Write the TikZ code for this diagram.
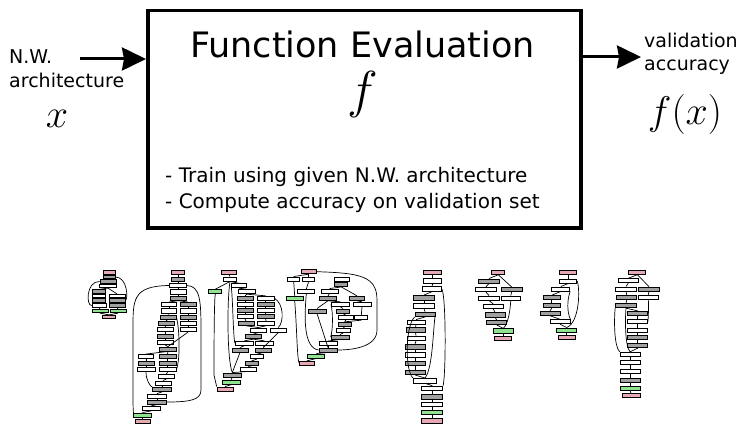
\RequirePackage{fix-cm}
\documentclass[tikz,border=0pt]{standalone}
\usepackage{fontspec}
\setmainfont{DejaVu Sans}
\usetikzlibrary{arrows.meta}

\definecolor{laygray}{HTML}{A0A0A0}
\definecolor{laygreen}{HTML}{8FE38F}
\definecolor{laypink}{HTML}{E6A8B4}

\begin{document}
\begin{tikzpicture}[
  x=1pt, y=-1pt,
  lyr/.style={draw, line width=0.7pt, inner sep=0pt, minimum height=4.2pt},
  gy/.style={fill=laygray}, wt/.style={fill=white},
  gn/.style={fill=laygreen}, pk/.style={fill=laypink},
  edg/.style={line width=0.7pt},
  big/.style={line width=3pt, -{Stealth[length=24pt, width=23pt, inset=2pt]}}
]
\useasboundingbox (0,0) rectangle (741,425);
% ---------------- top: the black-box evaluation --------------------------
\node[draw, line width=3.5pt, minimum width=433pt, minimum height=217pt,
  anchor=north west, inner sep=0pt] (fe) at (146,9) {};
\node[font=\fontsize{35}{40}\selectfont] (ttl) at (362.5,44) {Function Evaluation};
\node[font=\fontsize{52}{56}\selectfont] (fsym) at (362.5,95) {$f$};
\node[anchor=west, align=left, inner sep=0pt, font=\fontsize{20}{26}\selectfont]
  (steps) at (165,190) {- Train using given N.W. architecture\\- Compute accuracy on validation set};

\node[anchor=base west, inner sep=0pt, font=\fontsize{19}{23}\selectfont] (nw) at (9,64) {N.W.};
\node[anchor=base west, inner sep=0pt, font=\fontsize{19}{23}\selectfont] (arch) at (9,88) {architecture};
\node[font=\fontsize{40}{44}\selectfont] (xin) at (57,119) {$x$};
\coordinate (inp) at (80,59);
\draw[big] (inp) -- (fe.west |- inp);

\node[anchor=base west, inner sep=0pt, font=\fontsize{19}{23}\selectfont] (val) at (644,48) {validation};
\node[anchor=base west, inner sep=0pt, font=\fontsize{19}{23}\selectfont] (acc) at (644,71) {accuracy};
\node[font=\fontsize{40}{44}\selectfont] (fx) at (685,115) {$f(x)$};
\coordinate (outp) at (641,57);
\draw[big] (fe.east |- outp) -- (outp);

% ---------------- bottom: sample architectures ---------------------------
% net a
\begin{scope}[lyr/.append style={minimum height=3.5pt}]
  \foreach \n/\x/\y/\w/\k in {a1/109/272.5/12/pk, a2/109/277/12/gy, a3/108/281.5/16/gy,
    a4/108/286/17/wt, a5/99/291.5/13/gy, a6/99/296/13/wt, a7/99/300.5/13/gy,
    a8/117/296/16/wt, a9/117/300.5/16/gy, a10/99/305.5/14/wt, a11/117/305.5/16/gy,
    a12/100/311/16/gn, a13/118/311/16/gn, a14/109/317/13/pk}
    \node[lyr, \k, minimum width=\w pt] (\n) at (\x,\y) {};
\end{scope}
\foreach \u/\v in {a1/a2, a2/a3, a3/a4, a4/a5, a4/a8, a5/a6, a6/a7, a7/a10, a8/a9,
  a9/a11, a10/a12, a11/a13, a12/a14, a13/a14}
  \draw[edg] (\u.south) -- (\v.north);
\draw[edg] (a3.west) .. controls (86,281) and (86,306) .. (a10.west);
\draw[edg] (a2.east) .. controls (128,277) and (128,300) .. (a9.east);

% net b
\foreach \n/\x/\y/\w/\k in {b1/178/272.5/13/pk, b2/178/279/13/gy, b3/178/285.5/17/wt,
  b4/178/291.8/16/wt, b5/178/298.2/16/gy, b6/169/304.5/15/wt, b7/188/304.5/16/gy,
  b8/169/310.8/15/wt, b9/188/310.8/16/wt, b10/168/317/16/gy, b11/188/317/16/gy,
  b12/166/323.3/16/gy, b13/188/323.3/16/wt, b14/165/329.7/16/wt, b15/188/329.7/16/wt,
  b16/165/336/16/gy, b17/165/342.5/16/wt, b18/168/349/17/gy, b19/146/356.5/15/wt,
  b20/167.5/356.5/17/gy, b21/146/363/16/gy, b22/167.5/363/17/gy, b23/146/369.5/18/wt,
  b24/167.5/369.5/17/wt, b25/166.5/376.5/16/wt, b26/163/383/16/wt, b27/162/389.5/19/gy,
  b28/157/396/19/wt, b29/157/402/19/gy, b30/151/408.5/18/wt, b31/142.5/415/18/gn,
  b32/142.5/421/15/pk}
  \node[lyr, \k, minimum width=\w pt] (\n) at (\x,\y) {};
\foreach \u/\v in {b1/b2, b2/b3, b3/b4, b4/b5, b5/b6, b5/b7, b6/b8, b8/b10, b10/b12,
  b12/b14, b14/b16, b16/b17, b17/b18, b7/b9, b9/b11, b11/b13, b13/b15, b15/b18,
  b18/b19, b18/b20, b19/b21, b21/b23, b20/b22, b22/b24, b24/b25, b25/b26, b26/b27,
  b27/b28, b28/b29, b29/b30, b30/b31, b31/b32}
  \draw[edg] (\u.south) -- (\v.north);
\draw[edg] (b23.south) .. controls (146,380) and (150,386) .. (b27.north west);
\draw[edg] (b10.east) .. controls (180,330) and (180,362) .. (b24.east);
\draw[edg] (b3.west) .. controls (132,286) and (133,300) .. (133,330)
  -- (133,400) .. controls (133,412) and (134,415) .. (b31.west);
\draw[edg] (b3.east) .. controls (200,286) and (201,300) .. (201,330)
  -- (201,390) .. controls (201,400) and (190,402) .. (b29.east);

% net c
\foreach \n/\x/\y/\w/\k in {c1/229/272.3/15/pk, c2/230/279/13/wt, c3/239/285.7/15/wt,
  c4/215.3/291.7/13/gn, c5/246.7/291.7/17/wt, c6/245/298.3/16/gy, c7/265.7/298.3/17/wt,
  c8/245/304.3/16/wt, c9/265.7/304.3/17/gy, c10/245/310.7/16/gy, c11/265.7/310.7/17/wt,
  c12/245/316.7/16/wt, c13/265.7/316.7/17/gy, c14/246/323.3/16/gy, c15/266/323.3/17/wt,
  c16/258.3/330/16/wt, c17/278.3/330/16/wt, c18/253.3/336.7/16/gy, c19/244.3/343.3/18/wt,
  c20/264.3/343.3/18/wt, c21/240/350/16/gy, c22/263.3/350/16/gy, c23/256.7/356.7/13/wt,
  c24/251.7/363.3/13/gy, c25/248.3/369/16/wt, c26/232.3/375/18/gy, c27/231/382.3/18/gn,
  c28/225/389/16/pk}
  \node[lyr, \k, minimum width=\w pt] (\n) at (\x,\y) {};
\foreach \u/\v in {c1/c2, c2/c3, c2/c4, c3/c5, c5/c6, c5/c7, c6/c8, c8/c10, c10/c12,
  c12/c14, c7/c9, c9/c11, c11/c13, c13/c15, c14/c16, c15/c16, c16/c18, c18/c19,
  c18/c20, c19/c21, c20/c22, c17/c22, c22/c23, c23/c24, c24/c25, c25/c26, c21/c26,
  c26/c27, c27/c28}
  \draw[edg] (\u.south) -- (\v.north);
\draw[edg] (c4.south) .. controls (214,300) and (214,360) .. (214,375) -- (c28.north west);
\draw[edg] (c2.south) .. controls (227,300) and (227,360) .. (c26.north);
\draw[edg] (c3.west) .. controls (233,300) and (233,336) .. (c19.west);
\draw[edg] (c7.east) .. controls (284,304) and (284,322) .. (c17.north);

% net d
\foreach \n/\x/\y/\w/\k in {d1/308.7/271.7/15/pk, d2/293.7/279/12/wt, d3/308.7/279/12/wt,
  d4/342.3/279/15/wt, d5/341.3/284.5/13/gy, d6/306.3/291.5/17/wt, d7/329.7/291/17/wt,
  d8/294.7/298.3/17/gn, d9/328/298.3/17/gy, d10/357/298.3/15/gy, d11/340.3/304.3/18/wt,
  d12/362/304.3/18/wt, d13/317/311/18/gy, d14/343/311/13/gy, d15/345.7/317.7/15/wt,
  d16/361.3/317.7/13/wt, d17/344.7/324.3/13/gy, d18/343/330.7/14/wt, d19/340/337/18/gy,
  d20/328/343.5/18/wt, d21/328/350/18/gy, d22/316.3/356/17/gn, d23/307/363.3/15/pk}
  \node[lyr, \k, minimum width=\w pt] (\n) at (\x,\y) {};
\foreach \u/\v in {d1/d2, d1/d3, d4/d5, d5/d7, d5/d10, d3/d6, d2/d8, d7/d9, d9/d11,
  d9/d13, d10/d12, d11/d14, d14/d15, d12/d16, d15/d17, d16/d17, d17/d18, d18/d19,
  d19/d20, d20/d21, d13/d21, d21/d22, d22/d23}
  \draw[edg] (\u.south) -- (\v.north);
\draw[edg] (d1.east) .. controls (360,273) and (377,276) .. (377,300)
  -- (377,330) .. controls (377,348) and (350,350) .. (d21.east);
\draw[edg] (d11.west) .. controls (333,312) and (333,330) .. (d19.west);
\draw[edg] (d6.south) .. controls (304,320) and (304,348) .. (d21.west);
\draw[edg] (d8.south) .. controls (297,330) and (297,358) .. (d23.west);

% net e
\foreach \n/\x/\y/\w/\k in {e1/432.7/272.3/18/pk, e2/432.7/281/18/wt, e3/432/289/19/wt,
  e4/424/297.7/21/gy, e5/424/305.7/21/wt, e6/425/314.3/20/gy, e7/416/322.3/18/wt,
  e8/415.5/330/19/gy, e9/416/338.3/18/wt, e10/415/346.7/20/gy, e11/415/355/20/wt,
  e12/415/363.3/20/gy, e13/415/372.3/20/gy, e14/425/380.7/23/wt, e15/432.3/388.3/21/wt,
  e16/432.3/396.7/21/gy, e17/432.3/404.3/21/wt, e18/432.3/412.3/21/gn, e19/432.3/421/21/pk}
  \node[lyr, \k, minimum width=\w pt, minimum height=4.6pt] (\n) at (\x,\y) {};
\foreach \u/\v in {e1/e2, e2/e3, e3/e4, e4/e5, e5/e6, e6/e7, e7/e8, e8/e9, e9/e10,
  e10/e11, e11/e12, e12/e13, e13/e14, e14/e15, e15/e16, e16/e17, e17/e18, e18/e19}
  \draw[edg] (\u.south) -- (\v.north);
\draw[edg] (e3.east) .. controls (446,296) and (446,372) .. (e15.north east);
\draw[edg] (e6.east) .. controls (433,328) and (433,368) .. (e14.north);
\draw[edg] (e6.south west) .. controls (405,326) and (405,372) .. (e14.north west);

% net f
\foreach \n/\x/\y/\w/\k in {f1/498.3/272.3/13/pk, f2/489/281/21/gy, f3/485.8/289.5/21/wt,
  f4/511.7/289.5/21/gy, f5/489/298/21/wt, f6/510.8/298/19/wt, f7/493.3/306.5/20/wt,
  f8/495/314.8/20/gy, f9/496.7/322.5/20/gy, f10/503.3/330.8/20/gn, f11/503.3/338.3/17/pk}
  \node[lyr, \k, minimum width=\w pt] (\n) at (\x,\y) {};
\foreach \u/\v in {f1/f2, f1/f4, f2/f3, f3/f5, f4/f6, f5/f7, f7/f8, f8/f9, f9/f10, f10/f11}
  \draw[edg] (\u.south) -- (\v.north);
\draw[edg] (f6.south) .. controls (510,312) and (508,324) .. (f10.north);

% net g
\foreach \n/\x/\y/\w/\k in {g1/568.3/272.3/17/pk, g2/568.3/281/17/wt, g3/560.8/289/18/wt,
  g4/551.7/297.7/17/gy, g5/551.7/305.7/17/gy, g6/550/313.3/20/gy, g7/560/321.7/20/wt,
  g8/566.7/330/20/gn, g9/566.7/337.7/17/pk}
  \node[lyr, \k, minimum width=\w pt] (\n) at (\x,\y) {};
\foreach \u/\v in {g1/g2, g2/g3, g3/g4, g4/g5, g5/g6, g6/g7, g7/g8, g8/g9}
  \draw[edg] (\u.south) -- (\v.north);
\draw[edg] (g2.east) .. controls (580,288) and (580,322) .. (g8.north);
\draw[edg] (g3.south east) .. controls (567,300) and (567,312) .. (g7.north east);

% net h
\foreach \n/\x/\y/\w/\k in {h1/637.3/272.3/17/pk, h2/628.3/280.7/20/wt, h3/626/289/21/wt,
  h4/649/289/21/gy, h5/626.7/297.3/20/gy, h6/648.3/297.3/20/wt, h7/626/305.7/21/gy,
  h8/637.7/313.3/20/gy, h9/637.7/321.7/20/wt, h10/637.7/330/20/wt, h11/637.7/337.7/20/gy,
  h12/637.7/345.7/20/gy, h13/630/354.3/20/wt, h14/630/362.3/20/wt, h15/630/371/20/wt,
  h16/630/380/20/gy, h17/630/388.3/20/gn, h18/631/395.7/18/pk}
  \node[lyr, \k, minimum width=\w pt] (\n) at (\x,\y) {};
\foreach \u/\v in {h1/h2, h1/h4, h2/h3, h3/h5, h5/h7, h7/h8, h4/h6, h8/h9, h9/h10,
  h10/h11, h11/h12, h12/h13, h13/h14, h14/h15, h15/h16, h16/h17, h17/h18}
  \draw[edg] (\u.south) -- (\v.north);
\draw[edg] (h6.south) .. controls (649,308) and (648,318) .. (h9.east);
\draw[edg] (h7.south west) .. controls (614,320) and (614,346) .. (h13.north west);
\draw[edg] (h7.south) .. controls (625,320) and (625,346) .. (h13.north);
\end{tikzpicture}
\end{document}
